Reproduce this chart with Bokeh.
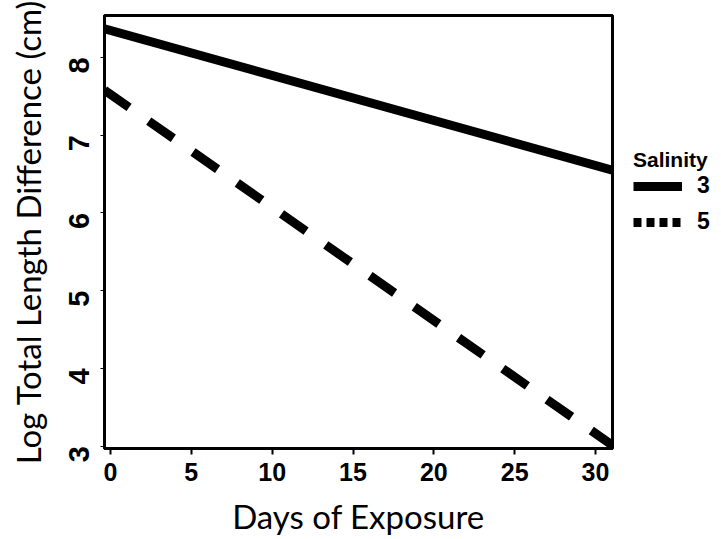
from bokeh.plotting import figure
from bokeh.layouts import row
from bokeh.models import Range1d, Legend, LegendItem, FixedTicker, ColumnDataSource
from bokeh.embed import file_html
from bokeh.resources import INLINE
from math import pi, nan

# Fitted lines of log total length difference against days of exposure
days = [-0.37, 31.05]
salinity_3 = [8.37, 6.55]
salinity_5 = [7.58, 3.01]
x_ticks = [0, 5, 10, 15, 20, 25, 30]
y_ticks = [3, 4, 5, 6, 7, 8]
legend_title = "Salinity"
legend_labels = ["3", "5"]

p = figure(width=620, height=539, output_backend="svg", toolbar_location=None,
           x_range=Range1d(-0.37, 31.05), y_range=Range1d(2.97, 8.54),
           min_border_left=104, min_border_right=8, min_border_top=15,
           min_border_bottom=91)
p.background_fill_color = "white"
p.border_fill_color = "white"
p.outline_line_color = "black"
p.outline_line_width = 3
p.grid.visible = False

p.line(days, salinity_3, line_color="black", line_width=9)
p.line(days, salinity_5, line_color="black", line_width=9, line_dash="30 24")

for ax in (p.xaxis[0], p.yaxis[0]):
    ax.axis_line_color = "black"
    ax.axis_line_width = 3
    ax.major_tick_line_color = "black"
    ax.major_tick_line_width = 2
    ax.major_tick_in = 0
    ax.minor_tick_out = 0
    ax.minor_tick_in = 0
    ax.major_label_text_font = "Liberation Sans"
    ax.major_label_text_font_style = "bold"
    ax.major_label_text_color = "black"
    ax.axis_label_text_font = "Lato"
    ax.axis_label_text_font_style = "normal"
    ax.axis_label_text_font_size = "33px"
    ax.axis_label_text_color = "black"

p.xaxis.ticker = FixedTicker(ticks=x_ticks)
p.yaxis.ticker = FixedTicker(ticks=y_ticks)
p.xaxis.major_tick_out = 6
p.yaxis.major_tick_out = 4
p.yaxis.major_tick_line_width = 1
p.xaxis.major_label_text_font_size = "25px"
p.yaxis.major_label_text_font_size = "29px"
p.yaxis.major_label_orientation = pi / 2
p.xaxis.major_label_standoff = 8
p.yaxis.major_label_standoff = 21
p.xaxis.axis_label = "Days of Exposure"
p.yaxis.axis_label = "Log Total Length Difference (cm)"
p.xaxis.axis_label_standoff = 12
p.yaxis.axis_label_standoff = 9

# Legend panel to the right of the plot
lg = figure(width=101, height=539, output_backend="svg", toolbar_location=None,
            x_range=Range1d(0, 1), y_range=Range1d(0, 1),
            min_border=0, min_border_left=0, min_border_right=0,
            min_border_top=0, min_border_bottom=0)
lg.axis.visible = False
lg.grid.visible = False
lg.outline_line_color = None
lg.background_fill_color = "white"
lg.border_fill_color = "white"

# key swatches only: a single undefined point, so nothing shows in the panel
key_src = ColumnDataSource(data=dict(x=[nan], y=[nan]))
r3 = lg.line("x", "y", source=key_src, line_color="black", line_width=9)
r5 = lg.line("x", "y", source=key_src, line_color="black", line_width=9,
             line_dash="8 5")

legend = Legend(items=[LegendItem(label=legend_labels[0], renderers=[r3]),
                       LegendItem(label=legend_labels[1], renderers=[r5])],
                location=(13, 213))
legend.title = legend_title
legend.title_text_font = "Liberation Sans"
legend.title_text_font_style = "bold"
legend.title_text_font_size = "21px"
legend.title_text_color = "black"
legend.title_standoff = 0
legend.label_text_font = "Liberation Sans"
legend.label_text_font_style = "bold"
legend.label_text_font_size = "23px"
legend.label_text_color = "black"
legend.glyph_width = 49
legend.glyph_height = 20
legend.label_height = 20
legend.label_standoff = 15
legend.spacing = 9
legend.padding = 0
legend.margin = 0
legend.border_line_color = None
legend.background_fill_alpha = 0
lg.add_layout(legend)

layout = row(p, lg, spacing=0)
open("out.html", "w").write(file_html(layout, INLINE))
